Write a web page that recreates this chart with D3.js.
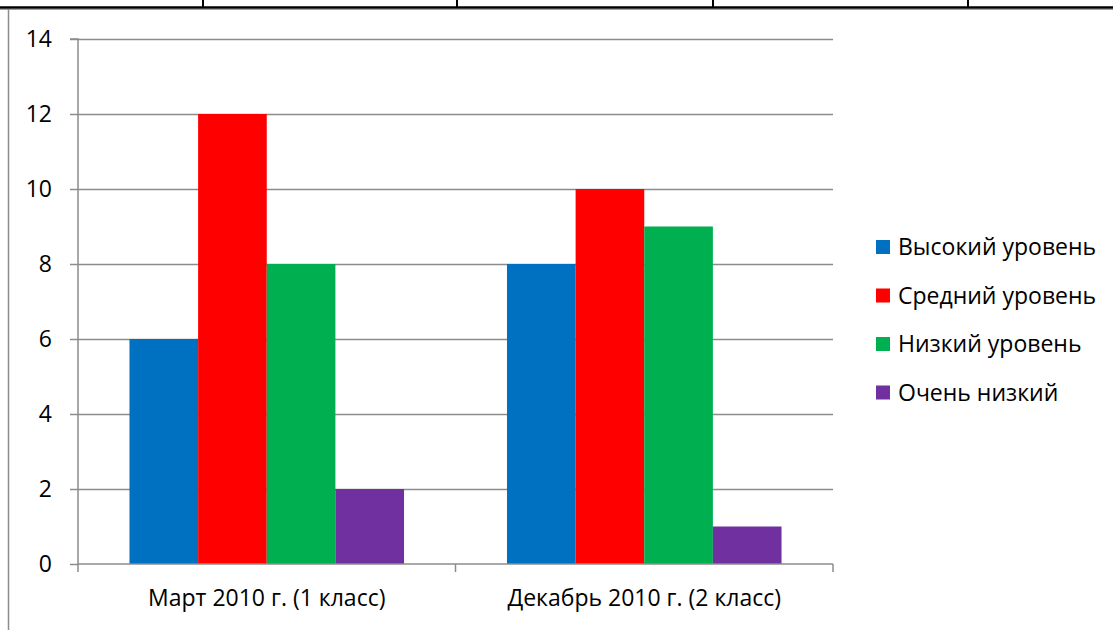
<!DOCTYPE html>
<html><head><meta charset="utf-8">
<script src="https://cdn.jsdelivr.net/npm/d3@7"></script>
<style>html,body{margin:0;padding:0;background:#fff;}svg{display:block;}</style>
</head><body>
<svg id="c" width="1113" height="630"></svg>
<script>
const categories = ["Март 2010 г. (1 класс)", "Декабрь 2010 г. (2 класс)"];
const seriesNames = ["Высокий уровень", "Средний уровень", "Низкий уровень", "Очень низкий"];
const seriesColors = ["#0070C0", "#FF0000", "#00B050", "#7030A0"];
const highLevel = [6, 8];
const midLevel = [12, 10];
const lowLevel = [8, 9];
const veryLow = [2, 1];
const yTicks = [0, 2, 4, 6, 8, 10, 12, 14];
const seriesValues = [highLevel, midLevel, lowLevel, veryLow];

const FONT = "'Open Sans', Lato, sans-serif";
const FS = 23;
const svg = d3.select("#c");

// page decorations (table borders from the document)
svg.append("line").attr("x1",0).attr("x2",1113).attr("y1",9.5).attr("y2",9.5).attr("stroke","#a0a0a0").attr("stroke-width",1);
svg.append("line").attr("x1",0).attr("x2",1113).attr("y1",7.5).attr("y2",7.5).attr("stroke","#000").attr("stroke-width",2.5);
[203, 457, 713, 968].forEach(x=>{
  svg.append("line").attr("x1",x).attr("x2",x).attr("y1",0).attr("y2",7).attr("stroke","#000").attr("stroke-width",2);
});
svg.append("line").attr("x1",8.5).attr("x2",8.5).attr("y1",9).attr("y2",630).attr("stroke","#8c8c8c").attr("stroke-width",1.5);

const x0 = 78, x1 = 833, yTop = 39, yBot = 564;
const y = d3.scaleLinear().domain([0,14]).range([yBot, yTop]);
const xb = d3.scaleBand().domain(categories).range([x0, x1]).paddingInner(0).paddingOuter(0);
const groupFrac = 4 / (4 + 1.5);
const xs = d3.scaleBand().domain(d3.range(4)).range([0, xb.bandwidth()*groupFrac]).padding(0);
const groupOffset = xb.bandwidth()*(1-groupFrac)/2;

// gridlines
svg.append("g").selectAll("line").data(yTicks.filter(t=>t>0)).join("line")
  .attr("x1", x0).attr("x2", x1).attr("y1", d=>Math.round(y(d))+0.5).attr("y2", d=>Math.round(y(d))+0.5)
  .attr("stroke", "#8c8c8c").attr("stroke-width", 1.5);

// bars
categories.forEach((cat, ci)=>{
  seriesValues.forEach((vals, si)=>{
    svg.append("rect")
      .attr("x", xb(cat) + groupOffset + xs(si))
      .attr("y", y(vals[ci]))
      .attr("width", xs.bandwidth())
      .attr("height", y(0) - y(vals[ci]))
      .attr("fill", seriesColors[si]);
  });
});

// y axis
const yAxis = d3.axisLeft(y).tickValues(yTicks).tickSize(8).tickPadding(18).tickFormat(d3.format("d"));
const gy = svg.append("g").attr("transform", `translate(${x0},0)`).call(yAxis);
gy.select(".domain").attr("stroke", "#8c8c8c").attr("stroke-width", 1.5).attr("d", `M-8,${y(14)}H0V${yBot}`);
gy.selectAll(".tick line").attr("stroke", "#8c8c8c").attr("stroke-width", 1.5);
gy.selectAll(".tick text").attr("font-family", FONT).attr("font-size", FS).attr("fill", "#000");

// x axis
const xAxis = d3.axisBottom(xb).tickSize(0).tickPadding(26);
const gx = svg.append("g").attr("transform", `translate(0,${yBot})`).call(xAxis);
gx.select(".domain").attr("stroke", "#8c8c8c").attr("stroke-width", 1.5).attr("d", `M${x0},0H${x1}`);
gx.selectAll(".tick text").attr("font-family", FONT).attr("font-size", FS).attr("fill", "#000");
gx.selectAll(".sep").data([x0, x0 + xb.bandwidth(), x1]).join("line").attr("class","sep")
  .attr("x1", d=>d).attr("x2", d=>d).attr("y1", 0).attr("y2", 8)
  .attr("stroke", "#8c8c8c").attr("stroke-width", 1.5);

// legend
const lg = svg.append("g");
seriesNames.forEach((n, i)=>{
  const cy = 247 + i*48.5;
  lg.append("rect").attr("x", 876).attr("y", cy-7).attr("width", 14).attr("height", 14).attr("fill", seriesColors[i]);
  lg.append("text").attr("x", 898).attr("y", cy).attr("dy", "0.35em")
    .attr("font-family", FONT).attr("font-size", FS).attr("fill", "#000").text(n);
});
</script>
</body></html>
